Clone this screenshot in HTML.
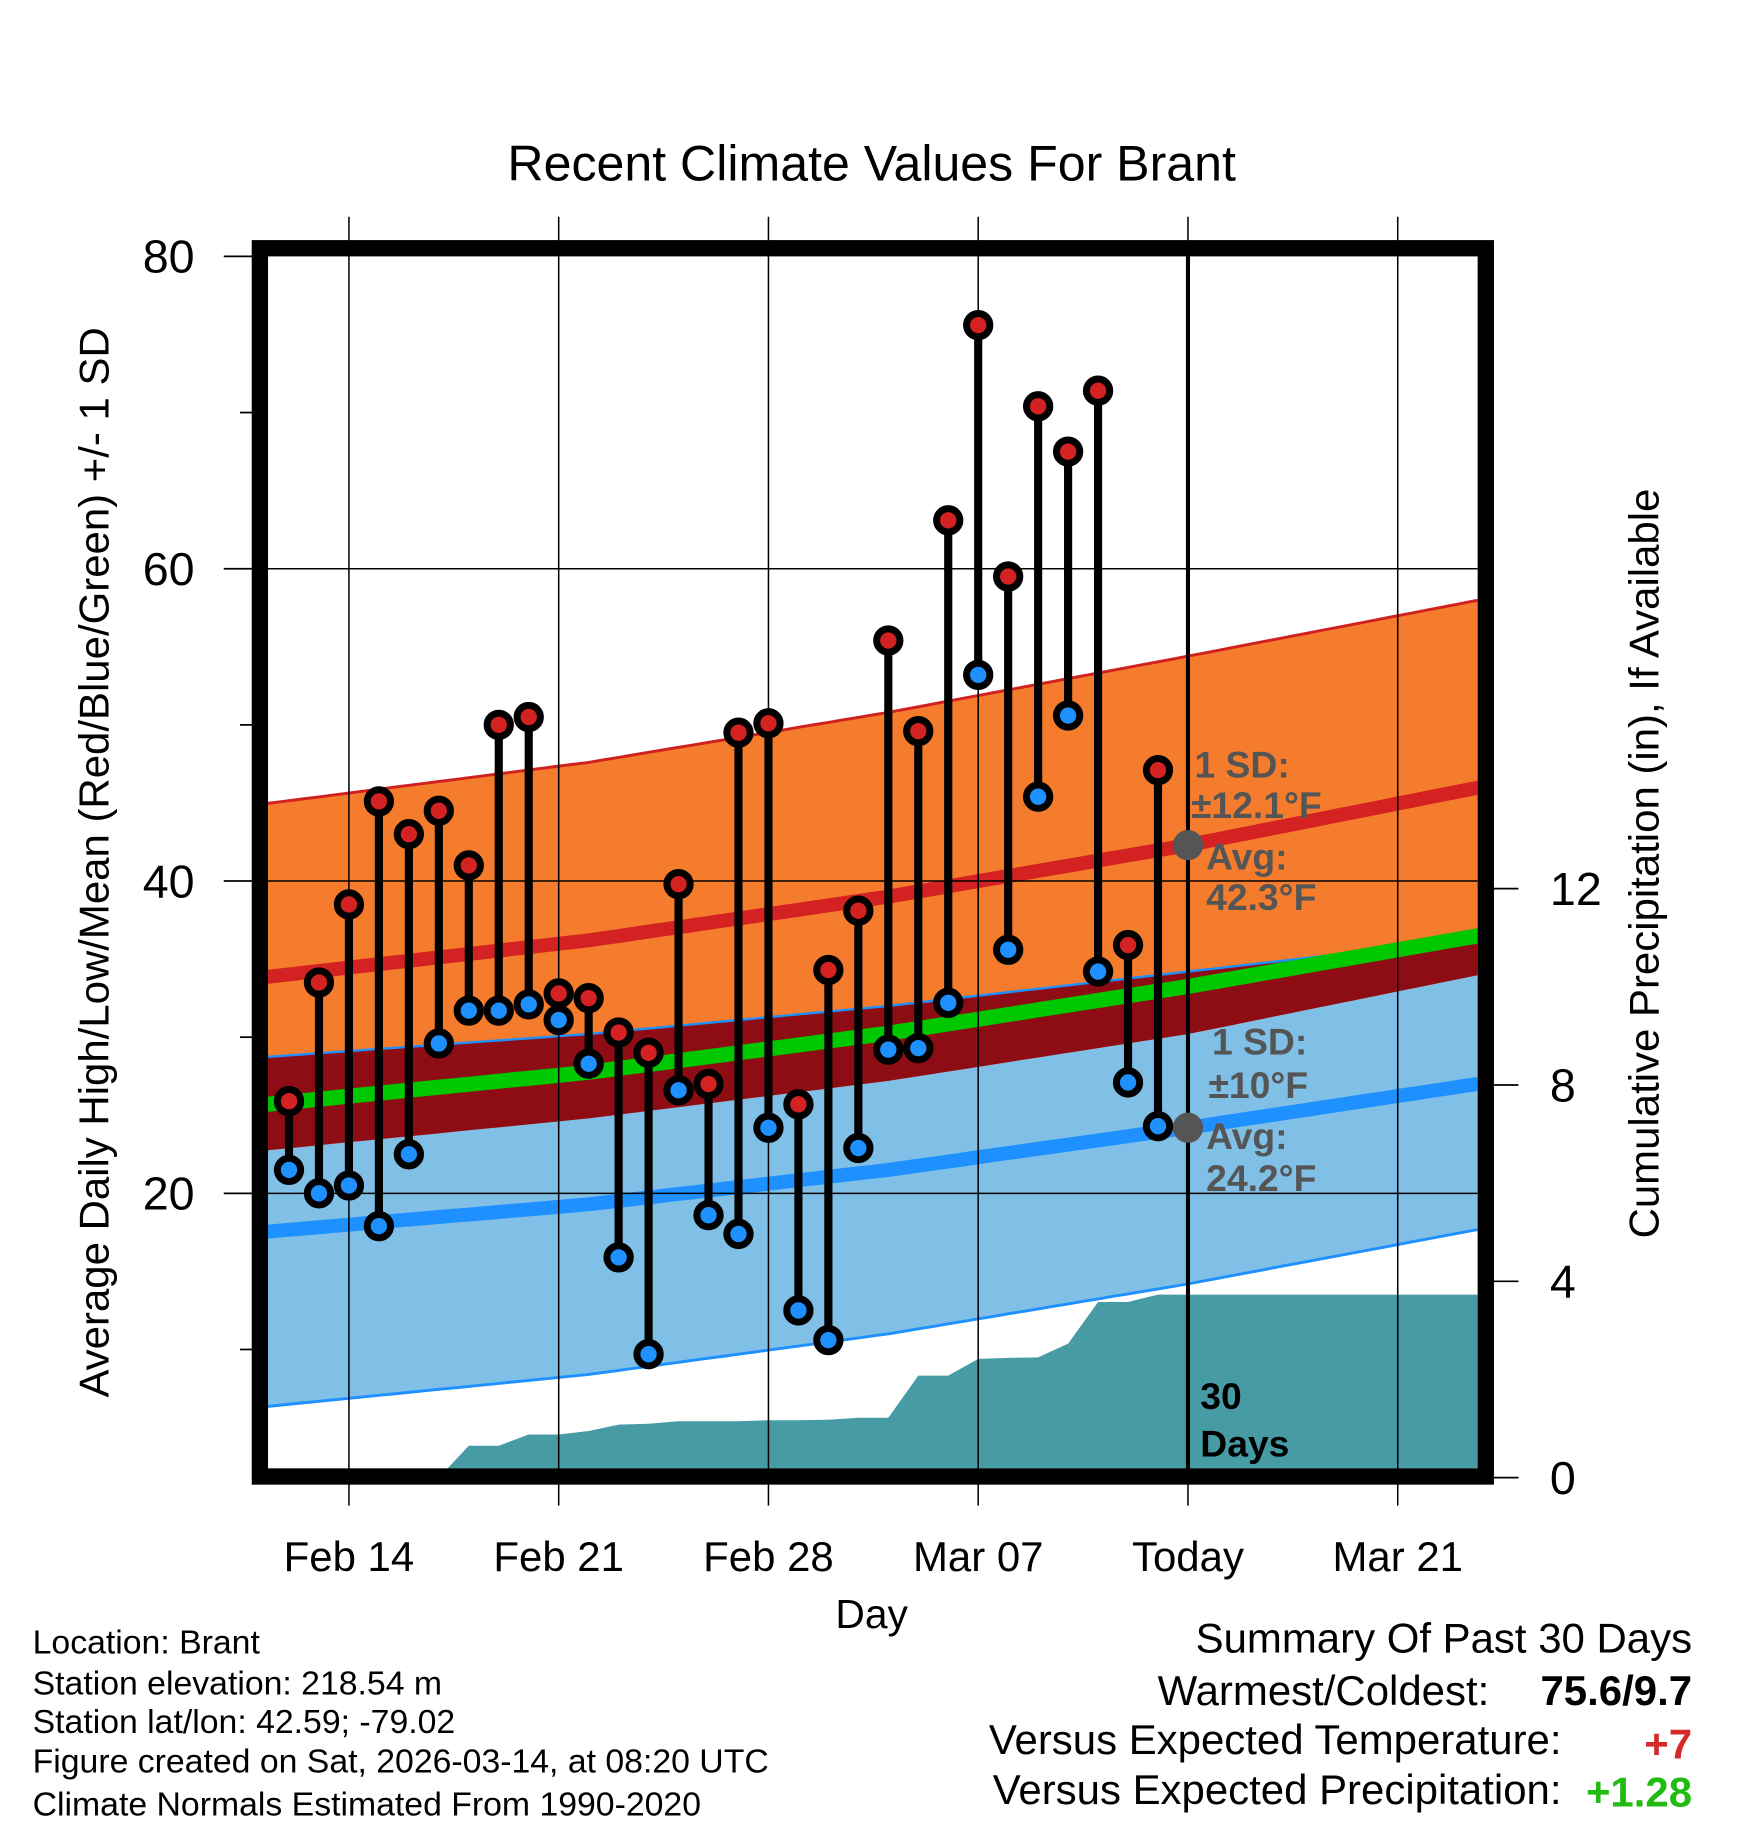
<!DOCTYPE html>
<html><head><meta charset="utf-8"><style>
html,body{margin:0;padding:0;background:#fff}
svg{display:block}
text{font-family:"Liberation Sans",Arial,sans-serif}
</style></head><body>
<svg id="chart" width="1748" height="1828" viewBox="0 0 1500 1568.6" xmlns="http://www.w3.org/2000/svg">
<defs><clipPath id="plotclip"><rect x="230" y="220" width="1038" height="1040"/></clipPath></defs>
<rect x="0" y="0" width="1500" height="1568.6" fill="#fff"/>
<text x="748" y="155" font-size="43" text-anchor="middle">Recent Climate Values For Brant</text>
<g id="plot" clip-path="url(#plotclip)"></g>
<g id="overlay"></g>
<rect x="223" y="213" width="1052" height="1054" fill="none" stroke="#000" stroke-width="14"/>
<text transform="translate(93,740) rotate(-90)" font-size="36" text-anchor="middle">Average Daily High/Low/Mean (Red/Blue/Green) +/- 1 SD</text>
<text transform="translate(1423,741) rotate(-90)" font-size="36" text-anchor="middle">Cumulative Precipitation (in), If Available</text>
<text x="748" y="1397" font-size="35" text-anchor="middle">Day</text>
<g font-size="29">
<text x="28" y="1419">Location: Brant</text>
<text x="28" y="1454">Station elevation: 218.54 m</text>
<text x="28" y="1487">Station lat/lon: 42.59; -79.02</text>
<text x="28" y="1521">Figure created on Sat, 2026-03-14, at 08:20 UTC</text>
<text x="28" y="1558">Climate Normals Estimated From 1990-2020</text>
</g>
<g font-size="36">
<text x="1452" y="1418" text-anchor="end">Summary Of Past 30 Days</text>
<text x="1278" y="1463" text-anchor="end">Warmest/Coldest:</text>
<text x="1452" y="1463" text-anchor="end" font-weight="bold">75.6/9.7</text>
<text x="1340" y="1505" text-anchor="end">Versus Expected Temperature:</text>
<text x="1452" y="1509" text-anchor="end" font-weight="bold" fill="#d42a2a">+7</text>
<text x="1340" y="1548" text-anchor="end">Versus Expected Precipitation:</text>
<text x="1452" y="1550" text-anchor="end" font-weight="bold" fill="#22bb11">+1.28</text>
</g>
</svg>
<script>
// ---- data ----
var highs=[25.9,33.5,38.5,45.1,43.0,44.5,41.0,50.0,50.5,32.8,32.5,30.3,29.0,39.8,27.0,49.5,50.1,25.7,34.3,38.1,55.4,49.6,63.1,75.6,59.5,70.4,67.5,71.4,35.9,47.1];
var lows=[21.5,20.0,20.5,17.9,22.5,29.6,31.7,31.7,32.1,31.1,28.3,15.9,9.7,26.6,18.6,17.4,24.2,12.5,10.6,22.9,29.2,29.3,32.2,53.2,35.6,45.4,50.6,34.2,27.1,24.3];
var precip=[0,0,0,0,0,0,0.65,0.65,0.88,0.88,0.95,1.08,1.10,1.15,1.15,1.15,1.17,1.17,1.18,1.22,1.22,2.08,2.08,2.42,2.44,2.45,2.73,3.58,3.58,3.73];
var normDays=[-1,10,20,30,40];
var normHigh=[33.8,36.2,39.0,42.3,46.1];
var normHighSD=[11.1,11.4,11.8,12.1,12.0];
var normLow=[17.5,19.3,21.5,24.2,27.1];
var normLowSD=[11.2,10.9,10.5,10.0,9.3];
var dateLabels=["Feb 14","Feb 21","Feb 28","Mar 07","Today","Mar 21"];
var dateDays=[2,9,16,23,30,37];
var yTicks=[80,60,40,20];
var yMinor=[70,50,30,10];
var y2Ticks=[12,8,4,0];
// ---- axes ----
function X(d){return 248+25.714*d;}
function Y(v){return 1292-13.4*v;}
function Y2(p){return 1268-42.125*p;}
var NS="http://www.w3.org/2000/svg";
function mk(tag,attrs,parent){var e=document.createElementNS(NS,tag);for(var k in attrs)e.setAttribute(k,attrs[k]);parent.appendChild(e);return e;}
var plot=document.getElementById('plot'),ov=document.getElementById('overlay');
function interp(arr,d){for(var i=0;i<normDays.length-1;i++){if(d<=normDays[i+1]||i==normDays.length-2){var t=(d-normDays[i])/(normDays[i+1]-normDays[i]);return arr[i]+t*(arr[i+1]-arr[i]);}}}
var samples=[];for(var s=-1;s<=40.01;s+=0.5)samples.push(s);
function curve(f){return samples.map(function(d){return X(d).toFixed(1)+','+Y(f(d)).toFixed(1);});}
var hiTop=function(d){return interp(normHigh,d)+interp(normHighSD,d);};
var hiBot=function(d){return interp(normHigh,d)-interp(normHighSD,d);};
var loTop=function(d){return interp(normLow,d)+interp(normLowSD,d);};
var loBot=function(d){return interp(normLow,d)-interp(normLowSD,d);};
function band(ft,fb){return curve(ft).concat(curve(fb).reverse()).join(' ');}
var e;
e=mk('polygon',{points:band(loTop,loBot),fill:'#80c0e6'},plot);


e=mk('polygon',{points:band(hiTop,hiBot),fill:'#f57c2c'},plot);


e=mk('polygon',{points:band(function(d){return Math.min(loTop(d),hiTop(d));},hiBot),fill:'#8e0d15'},plot);


e=mk('polyline',{points:curve(hiTop).join(' '),fill:'none',stroke:'#d02020','stroke-width':2.5},plot);


e=mk('polyline',{points:curve(loTop).join(' '),fill:'none',stroke:'#1e90ff','stroke-width':2},plot);


e=mk('polyline',{points:curve(loBot).join(' '),fill:'none',stroke:'#1e90ff','stroke-width':2.5},plot);


e=mk('polyline',{points:curve(function(d){return (interp(normHigh,d)+interp(normLow,d))/2;}).join(' '),fill:'none',stroke:'#00c800','stroke-width':13},plot);


e=mk('polyline',{points:curve(function(d){return interp(normHigh,d);}).join(' '),fill:'none',stroke:'#d42222','stroke-width':12},plot);


e=mk('polyline',{points:curve(function(d){return interp(normLow,d);}).join(' '),fill:'none',stroke:'#1e90ff','stroke-width':12},plot);


// precip area
var pp=[X(-1)+','+Y2(0)];
precip.forEach(function(p,i){pp.push(X(i).toFixed(1)+','+Y2(p).toFixed(1));});
pp.push(X(41)+','+Y2(precip[precip.length-1]).toFixed(1));pp.push(X(41)+','+Y2(0));
e=mk('polygon',{points:pp.join(' '),fill:'#479ba4'},plot);


// gridlines
yTicks.forEach(function(v){if(v<80){e=mk('line',{x1:230,x2:1268,y1:Y(v),y2:Y(v),stroke:'#000','stroke-width':1.3},plot);

}});
dateDays.forEach(function(d,i){e=mk('line',{x1:X(d),x2:X(d),y1:186,y2:1292,stroke:'#000','stroke-width':1.3},ov);


e=mk('text',{x:X(d),y:1348,'font-size':36,'text-anchor':'middle'},ov);e.textContent=dateLabels[i];

});
yTicks.forEach(function(v){e=mk('line',{x1:192,x2:218,y1:Y(v),y2:Y(v),stroke:'#000','stroke-width':1.5},ov);


e=mk('text',{x:167,y:Y(v)+14,'font-size':40,'text-anchor':'end'},ov);e.textContent=v;

});
yMinor.forEach(function(v){e=mk('line',{x1:206,x2:218,y1:Y(v),y2:Y(v),stroke:'#000','stroke-width':1.5},ov);

});
y2Ticks.forEach(function(p){e=mk('line',{x1:1280,x2:1303,y1:Y2(p),y2:Y2(p),stroke:'#000','stroke-width':1.5},ov);


e=mk('text',{x:1330,y:Y2(p)+14,'font-size':40},ov);e.textContent=p;

});
// today line
e=mk('line',{x1:X(30),x2:X(30),y1:220,y2:1260,stroke:'#000','stroke-width':3.5},ov);


// markers
highs.forEach(function(h,i){var x=X(i);
e=mk('line',{x1:x,x2:x,y1:Y(h),y2:Y(lows[i]),stroke:'#000','stroke-width':7},ov);


e=mk('circle',{cx:x,cy:Y(h),r:10,fill:'#d42222',stroke:'#000','stroke-width':6},ov);


e=mk('circle',{cx:x,cy:Y(lows[i]),r:10,fill:'#1e90ff',stroke:'#000','stroke-width':6},ov);

});
// today avg dots
e=mk('circle',{cx:X(30),cy:Y(interp(normHigh,30)),r:13,fill:'#555'},ov);


e=mk('circle',{cx:X(30),cy:Y(interp(normLow,30)),r:13,fill:'#555'},ov);


// annotations
var ann=[[1025,667,"1 SD:"],[1022,702,"±12.1°F"],[1035,746,"Avg:"],[1035,781,"42.3°F"],[1040,905,"1 SD:"],[1037,942,"±10°F"],[1035,986,"Avg:"],[1035,1022,"24.2°F"]];
ann.forEach(function(a){e=mk('text',{x:a[0],y:a[1],'font-size':32,'font-weight':'bold',fill:'#555'},ov);e.textContent=a[2];

});
e=mk('text',{x:1030,y:1209,'font-size':32,'font-weight':'bold'},ov);e.textContent="30";


e=mk('text',{x:1030,y:1250,'font-size':32,'font-weight':'bold'},ov);e.textContent="Days";


</script>
</body></html>
